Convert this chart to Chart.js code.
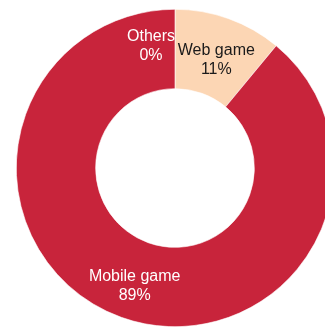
<!DOCTYPE html>
<html>
<head>
<meta charset="utf-8">
<script src="https://cdn.jsdelivr.net/npm/chart.js@4/dist/chart.umd.min.js"></script>
<style>
  html, body { margin: 0; padding: 0; background: #fff; overflow: hidden; }
  #wrap { position: absolute; left: 16px; top: 9px; width: 318px; height: 318px; }
</style>
</head>
<body>
<div id="wrap"><canvas id="donut"></canvas></div>
<script>
const labels = ["Web game", "Mobile game", "Others"];
const shares = [11, 89, 0];
const colors = ["rgb(252, 214, 180)", "rgb(200, 36, 59)", "rgb(200, 36, 59)"];
const textColors = ["#1a1a1a", "#ffffff", "#ffffff"];
// small nudges so the labels sit where they read best
const labelShift = [[1, 4], [0, 6], [-24, -3]];

const sliceLabels = {
    id: "sliceLabels",
    afterDatasetsDraw(chart) {
        const ctx = chart.ctx;
        const meta = chart.getDatasetMeta(0);
        ctx.save();
        ctx.font = "16px 'Liberation Sans', Arial, sans-serif";
        ctx.textAlign = "center";
        ctx.textBaseline = "middle";
        meta.data.forEach((arc, i) => {
            const p = arc.getCenterPoint();
            const x = p.x + labelShift[i][0];
            const y = p.y + labelShift[i][1];
            ctx.fillStyle = textColors[i];
            ctx.fillText(labels[i], x, y - 9.5);
            ctx.fillText(shares[i] + "%", x, y + 9.5);
        });
        ctx.restore();
    },
};

new Chart(document.getElementById("donut"), {
    type: "doughnut",
    data: {
        labels: labels,
        datasets: [
            {
                data: shares,
                backgroundColor: colors,
                borderColor: "#ffffff",
                borderWidth: 0.6,
            },
        ],
    },
    options: {
        responsive: true,
        maintainAspectRatio: false,
        animation: false,
        cutout: "50%",
        layout: { padding: 0 },
        plugins: {
            legend: { display: false },
            tooltip: { enabled: false },
        },
    },
    plugins: [sliceLabels],
});
</script>
</body>
</html>
